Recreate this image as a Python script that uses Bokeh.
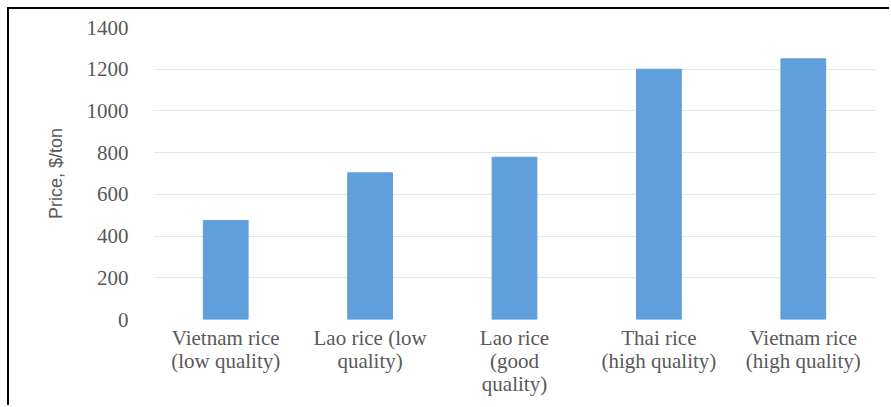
from bokeh.plotting import figure
from bokeh.models import ColumnDataSource, FactorRange, FixedTicker
from bokeh.embed import file_html
from bokeh.resources import INLINE

categories = [
    "Vietnam rice\n(low quality)",
    "Lao rice (low\nquality)",
    "Lao rice\n(good\nquality)",
    "Thai rice\n(high quality)",
    "Vietnam rice\n(high quality)",
]
prices = [475, 703, 778, 1200, 1250]
y_ticks = [0, 200, 400, 600, 800, 1000, 1200, 1400]

source = ColumnDataSource(data=dict(cat=categories, price=prices))

p = figure(
    width=882, height=398,
    x_range=FactorRange(factors=categories, range_padding=0),
    y_range=(0, 1400),
    output_backend="svg", toolbar_location=None,
    min_border_left=144, min_border_right=16,
    min_border_top=18, min_border_bottom=88,
)
p.styles = {
    "border-top": "2px solid black",
    "border-left": "2px solid black",
    "margin-left": "7px",
    "margin-top": "7px",
}
p.vbar(x="cat", top="price", width=0.31, source=source,
       fill_color="#5e9fdc", line_color="#5e9fdc")

p.outline_line_color = None
p.background_fill_color = "white"
p.border_fill_color = "white"

p.xgrid.grid_line_color = None
p.ygrid.grid_line_color = "#e6e6e6"
p.ygrid.grid_line_width = 1

p.yaxis.ticker = FixedTicker(ticks=y_ticks)
p.yaxis.axis_line_color = None
p.yaxis.major_tick_line_color = None
p.yaxis.minor_tick_line_color = None
p.yaxis.major_tick_out = 0
p.yaxis.major_tick_in = 0
p.yaxis.major_label_standoff = 25
p.yaxis.major_label_text_font = "Liberation Serif"
p.yaxis.major_label_text_font_size = "21px"
p.yaxis.major_label_text_color = "#595959"
p.yaxis.axis_label = "Price, $/ton"
p.yaxis.axis_label_text_font = "Liberation Sans"
p.yaxis.axis_label_text_font_style = "normal"
p.yaxis.axis_label_text_font_size = "18px"
p.yaxis.axis_label_text_color = "#595959"
p.yaxis.axis_label_standoff = 18

p.xaxis.axis_line_color = None
p.xaxis.major_tick_line_color = None
p.xaxis.major_tick_out = 0
p.xaxis.major_tick_in = 0
p.xaxis.major_label_standoff = 6
p.xaxis.major_label_text_font = "Liberation Serif"
p.xaxis.major_label_text_font_size = "21px"
p.xaxis.major_label_text_color = "#595959"
p.xaxis.major_label_text_line_height = 0.97

open("out.html", "w").write(file_html(p, INLINE))
